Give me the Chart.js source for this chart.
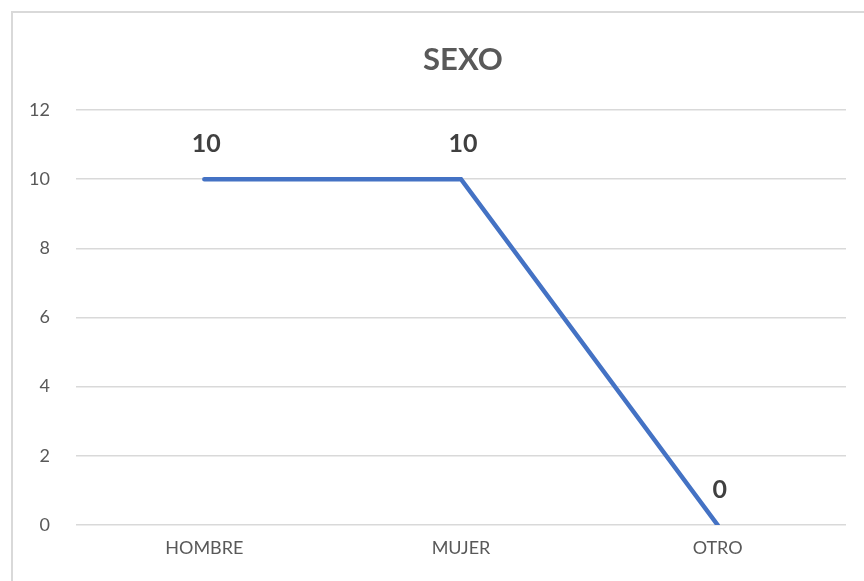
<!DOCTYPE html>
<html lang="es">
<head>
  <meta charset="UTF-8" />
  <title>SEXO</title>
  <script src="https://cdn.jsdelivr.net/npm/chart.js"></script>
  <style>
    html, body { margin: 0; padding: 0; background: #fff; }
    #wrap { position: relative; width: 864px; height: 581px; }
    #frame { position: absolute; left: 11px; top: 11px; right: 0; bottom: 0; border-left: 2px solid #d9d9d9; border-top: 2px solid #d9d9d9; }
    canvas { position: absolute; left: 0; top: 0; }
  </style>
</head>
<body>
  <div id="wrap">
    <div id="frame"></div>
    <canvas id="chart" width="864" height="581"></canvas>
  </div>
  <script>
    const categories = ['HOMBRE', 'MUJER', 'OTRO'];
    const counts = [10, 10, 0];
    const yTicks = [0, 2, 4, 6, 8, 10, 12];
    const chartTitle = 'SEXO';

    const FONT = 'Lato, "Open Sans", sans-serif';

    // titulo y etiquetas de datos
    const labelsPlugin = {
      id: 'labels',
      afterDatasetsDraw(chart) {
        const ctx = chart.ctx;
        ctx.save();
        ctx.fillStyle = '#595959';
        ctx.font = 'bold 31px ' + FONT;
        ctx.textAlign = 'center';
        ctx.textBaseline = 'middle';
        ctx.fillText(chartTitle, 463, 60);
        ctx.fillStyle = '#404040';
        ctx.font = 'bold 25px ' + FONT;
        chart.getDatasetMeta(0).data.forEach((pt, i) => {
          ctx.fillText(String(counts[i]), pt.x + 2, pt.y - 35);
        });
        ctx.restore();
      }
    };

    new Chart(document.getElementById('chart'), {
      type: 'line',
      data: {
        labels: categories,
        datasets: [{
          data: counts,
          borderColor: '#4472c4',
          borderWidth: 4.5,
          borderCapStyle: 'round',
          pointRadius: 0,
          tension: 0,
          fill: false
        }]
      },
      options: {
        responsive: false,
        animation: false,
        layout: { padding: { left: 0, top: 110, right: 18, bottom: 0 } },
        plugins: { legend: { display: false }, tooltip: { enabled: false }, title: { display: false } },
        scales: {
          x: {
            offset: true,
            grid: { display: false, drawTicks: false },
            border: { display: false },
            ticks: { color: '#595959', font: { family: FONT, size: 18 }, padding: 12 },
            afterFit: s => { s.height = 56; }
          },
          y: {
            min: 0, max: 12,
            afterBuildTicks: s => { s.ticks = yTicks.map(v => ({ value: v })); },
            grid: { color: '#d9d9d9', lineWidth: 1.5, drawTicks: false },
            border: { display: false },
            ticks: { color: '#595959', font: { family: FONT, size: 18 }, padding: 26 },
            afterFit: s => { s.width = 76; }
          }
        }
      },
      plugins: [labelsPlugin]
    });
  </script>
</body>
</html>
